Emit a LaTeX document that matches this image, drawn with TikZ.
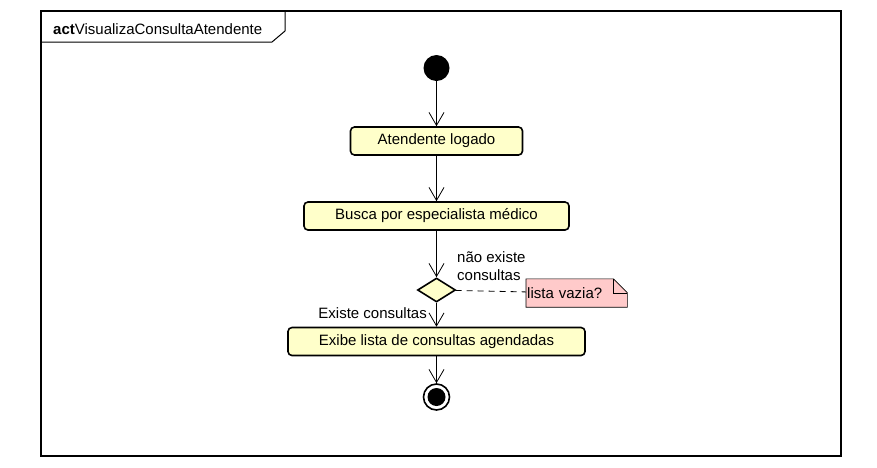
\documentclass[tikz,border=0pt]{standalone}
\usepackage{fontspec}
\setmainfont{Liberation Sans}
\usetikzlibrary{arrows.meta,shapes.geometric,backgrounds}

\definecolor{actfill}{RGB}{255,255,202}
\definecolor{notefill}{RGB}{255,202,202}

\tikzset{
    umltext/.style={font=\fontsize{15}{17}\selectfont},
    action/.style={draw,line width=1.6pt,rounded corners=4pt,fill=actfill,minimum height=28pt,inner sep=0pt,umltext},
    flow/.style={-{Straight Barb[length=13pt,width=15pt]},line width=0.8pt},
}

\begin{document}
\begin{tikzpicture}[x=1pt,y=-1pt]
    \useasboundingbox (0,0) rectangle (877,467);
    % frame and tab
    \draw[line width=1.3pt] (41,11) rectangle (841,456);
    \draw[line width=1pt] (41,42) -- (272,42) -- (285,31) -- (285,11);
    \node[anchor=base west,inner sep=0pt,umltext] (title) at (53,34) {\textbf{act}VisualizaConsultaAtendente};
    % nodes
    \node[circle,fill=black,minimum size=26pt,inner sep=0pt] (start) at (436.5,68) {};
    \node[action,minimum width=172pt] (logado) at (436.5,141) {Atendente logado};
    \node[action,minimum width=265pt] (busca) at (436.5,216) {Busca por especialista médico};
    \node[diamond,draw,line width=1.6pt,fill=actfill,shape aspect=1.6,minimum width=38pt,minimum height=24pt,inner sep=0pt] (decisao) at (436.5,290) {};
    \node[action,minimum width=297pt] (exibe) at (436.5,341.5) {Exibe lista de consultas agendadas};
    \node[circle,draw,line width=1.6pt,minimum size=26pt,inner sep=0pt] (fim) at (436.5,397) {};
    \node[circle,fill=black,minimum size=18pt,inner sep=0pt] (fimdot) at (fim) {};
    % note
    \node[anchor=west,minimum width=101pt,minimum height=28pt,inner sep=1pt,text width=99pt,umltext] (nota) at (526,293) {lista vazia?};
    \begin{scope}[on background layer]
        \draw[fill=notefill,line width=0.6pt] (nota.south west) -- (nota.north west) -- ([xshift=-14pt]nota.north east) -- ([yshift=-14pt]nota.north east) -- (nota.south east) -- cycle;
    \end{scope}
    \draw[line width=0.6pt] ([xshift=-14pt]nota.north east) |- ([yshift=-14pt]nota.north east);
    % guard labels
    \node[anchor=base west,inner sep=0pt,umltext] (naoexiste) at (457,262) {não existe};
    \node[anchor=base west,inner sep=0pt,umltext] (naoconsultas) at (457,280) {consultas};
    \node[anchor=base east,inner sep=0pt,umltext] (existe) at (427,318) {Existe consultas};
    % connectors
    \draw[flow] (start) -- (logado);
    \draw[flow] (logado) -- (busca);
    \draw[flow] (busca) -- (decisao);
    \draw[flow] (decisao) -- (exibe);
    \draw[flow] (exibe) -- (fim);
    \draw[line width=0.8pt,dash pattern=on 6pt off 5pt] (decisao) -- (nota);
\end{tikzpicture}
\end{document}
